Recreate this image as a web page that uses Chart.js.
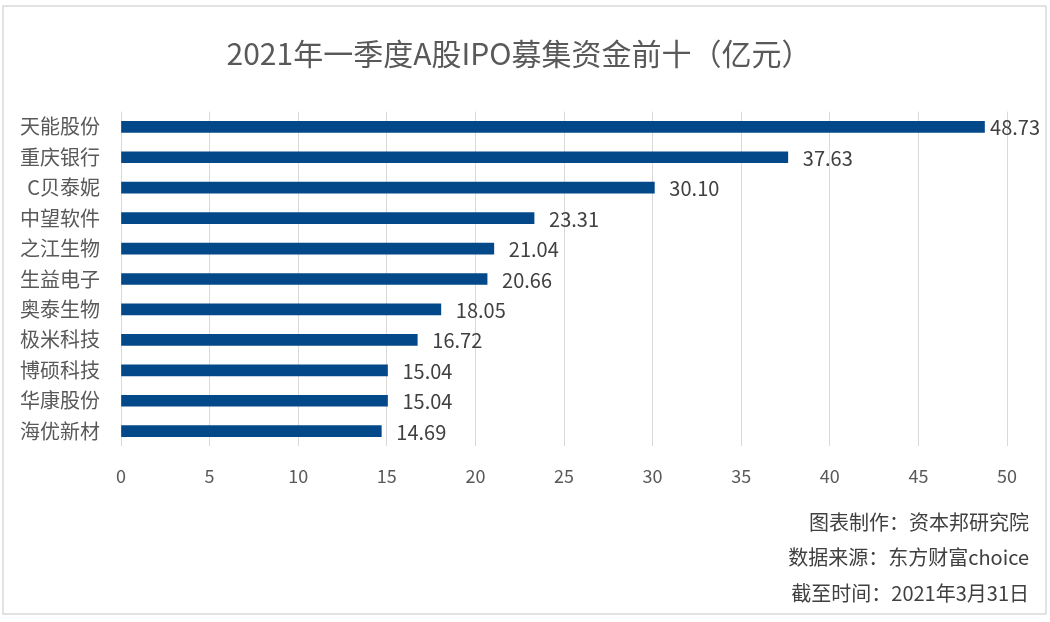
<!DOCTYPE html>
<html>
<head>
<meta charset="utf-8">
<script src="https://cdn.jsdelivr.net/npm/chart.js@4"></script>
<style>
  html, body { margin: 0; padding: 0; background: #fff; }
</style>
</head>
<body>
<canvas id="myChart" width="1050" height="622"></canvas>
<script>
const companies = ['天能股份', '重庆银行', 'C贝泰妮', '中望软件', '之江生物', '生益电子', '奥泰生物', '极米科技', '博硕科技', '华康股份', '海优新材'];
const raised = [48.73, 37.63, 30.10, 23.31, 21.04, 20.66, 18.05, 16.72, 15.04, 15.04, 14.69];
const xTicks = [0, 5, 10, 15, 20, 25, 30, 35, 40, 45, 50];
const chartTitle = '2021年一季度A股IPO募集资金前十（亿元）';
const footerLines = ['图表制作：资本邦研究院', '数据来源：东方财富choice', '截至时间：2021年3月31日'];

const fontFamily = '"Noto Sans CJK SC", "Noto Sans", sans-serif';

const frame = {
    id: 'frame',
    beforeDraw(chart) {
        const c = chart.ctx;
        c.save();
        c.fillStyle = '#fff';
        c.fillRect(0, 0, chart.width, chart.height);
        c.strokeStyle = '#d9d9d9';
        c.lineWidth = 1.5;
        c.strokeRect(3, 6, 1043, 608);
        c.restore();
    }
};

const valueLabels = {
    id: 'valueLabels',
    afterDatasetsDraw(chart) {
        const c = chart.ctx;
        const meta = chart.getDatasetMeta(0);
        c.save();
        c.font = '20px ' + fontFamily;
        c.fillStyle = '#404040';
        c.textBaseline = 'middle';
        meta.data.forEach((bar, i) => {
            const txt = raised[i].toFixed(2);
            const w = c.measureText(txt).width;
            const x = Math.min(bar.x + 15, 1040 - w);
            c.fillText(txt, x, bar.y + 1);
        });
        c.restore();
    }
};

// title and source notes
const texts = {
    id: 'texts',
    afterDraw(chart) {
        const c = chart.ctx;
        c.save();
        c.textBaseline = 'middle';
        c.fillStyle = '#595959';
        c.textAlign = 'center';
        c.font = '30px ' + fontFamily;
        c.fillText(chartTitle, 519, 54);

        c.font = '20px ' + fontFamily;
        c.fillStyle = '#404040';
        c.textAlign = 'right';
        footerLines.forEach((line, i) => {
            c.fillText(line, 1029, 522.5 + i * 35.3);
        });
        c.restore();
    }
};

const ctx = document.querySelector('#myChart');

myChart = new Chart(ctx, {
    type: 'bar',
    data: {
        labels: companies,
        datasets: [{
            label: '募集资金',
            data: raised,
            backgroundColor: '#03498a',
            barThickness: 11
        }]
    },
    options: {
        indexAxis: 'y',
        responsive: false,
        animation: false,
        layout: {
            padding: { left: 0, right: 43, top: 111.6, bottom: 116 }
        },
        plugins: {
            legend: { display: false },
            tooltip: { enabled: false },
            title: { display: false }
        },
        scales: {
            x: {
                min: 0,
                max: 50,
                afterBuildTicks: axis => {
                    axis.ticks = xTicks.map(v => ({ value: v }));
                },
                grid: { color: '#d9d9d9', lineWidth: 1, drawTicks: false },
                border: { display: false },
                ticks: {
                    color: '#595959',
                    padding: 19,
                    font: { family: fontFamily, size: 18 }
                }
            },
            y: {
                afterFit: axis => { axis.width = 121; },
                grid: { display: false },
                border: { display: false },
                ticks: {
                    color: '#595959',
                    padding: 13,
                    font: { family: fontFamily, size: 20 }
                }
            }
        }
    },
    plugins: [frame, valueLabels, texts]
});
</script>
</body>
</html>
